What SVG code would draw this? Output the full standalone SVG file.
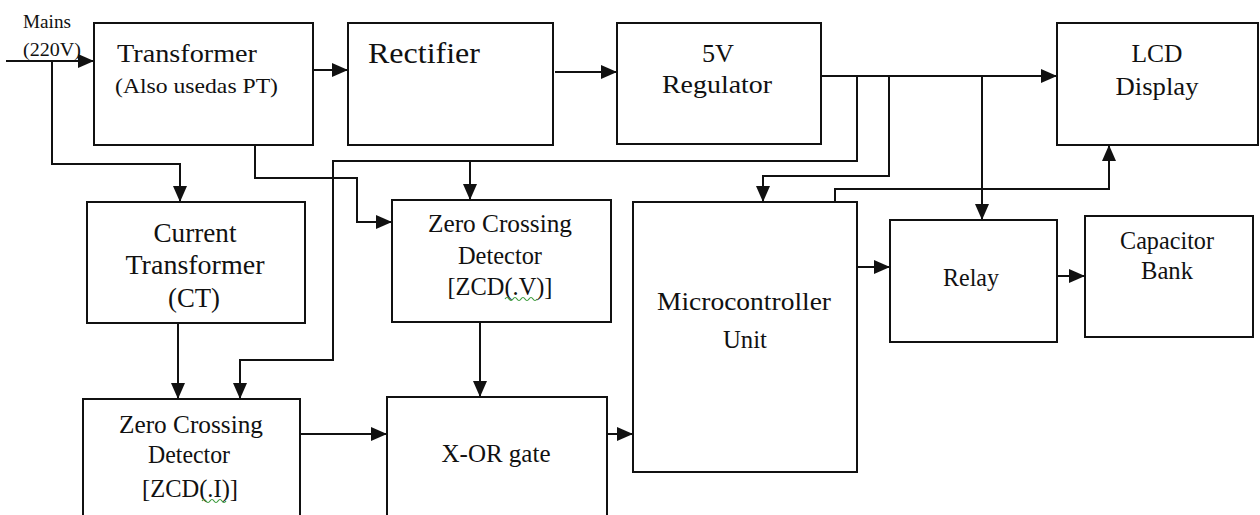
<svg xmlns="http://www.w3.org/2000/svg" width="1260" height="515" viewBox="0 0 1260 515">
<defs>
<marker id="ah" markerUnits="userSpaceOnUse" markerWidth="16" markerHeight="14" refX="16" refY="7" orient="auto">
<path d="M0,0 L16,7 L0,14 Z" fill="#111"/>
</marker>
<style>
.box{fill:#fff;stroke:#111;stroke-width:2}
.c{fill:none;stroke:#111;stroke-width:2}
.a{marker-end:url(#ah)}
.sq{fill:none;stroke:#3a9a3a;stroke-width:1.2}
.m{text-anchor:middle}
</style>
</defs>
<rect width="1260" height="515" fill="#fff"/>

<g id="connectors">
<path class="c a" d="M6,61 H94"/>
<path class="c a" d="M52,61 V164 H180 V202"/>
<path class="c a" d="M313,70 H348"/>
<path class="c a" d="M555,72 H617"/>
<path class="c a" d="M821,76 H1057"/>
<path class="c a" d="M255,145 V178 H357 V222 H392"/>
<path class="c a" d="M857,76 V161 H333 V360 H240 V399"/>
<path class="c a" d="M470,161 V200"/>
<path class="c a" d="M889,76 V176 H763 V202"/>
<path class="c a" d="M982,76 V220"/>
<path class="c a" d="M835,202 V189 H1109 V145"/>
<path class="c a" d="M178,323 V399"/>
<path class="c a" d="M480,322 V397"/>
<path class="c a" d="M300,434 H387"/>
<path class="c a" d="M607,434 H633"/>
<path class="c a" d="M857,267 H890"/>
<path class="c a" d="M1057,276 H1085"/>
</g>

<g font-family="'Liberation Serif', 'Times New Roman', 'DejaVu Serif', serif" font-size="26" fill="#111">

<g id="mains-label">
<text x="23" y="28" font-size="18" textLength="48" lengthAdjust="spacingAndGlyphs">Mains</text>
<text x="23" y="56" font-size="19" textLength="58" lengthAdjust="spacingAndGlyphs">(220V)</text>
</g>

<g id="transformer">
<rect class="box" x="94" y="23" width="219" height="122"/>
<text x="117" y="62" textLength="140" lengthAdjust="spacingAndGlyphs">Transformer</text>
<text x="115" y="93" font-size="21" textLength="163" lengthAdjust="spacingAndGlyphs">(Also usedas PT)</text>
</g>

<g id="rectifier">
<rect class="box" x="348" y="23" width="205" height="122"/>
<text x="368" y="63" font-size="30" textLength="112" lengthAdjust="spacingAndGlyphs">Rectifier</text>
</g>

<g id="regulator">
<rect class="box" x="617" y="23" width="204" height="121"/>
<text class="m" x="718" y="62" textLength="32" lengthAdjust="spacingAndGlyphs">5V</text>
<text class="m" x="717" y="93" textLength="110" lengthAdjust="spacingAndGlyphs">Regulator</text>
</g>

<g id="lcd">
<rect class="box" x="1057" y="23" width="201" height="122"/>
<text class="m" x="1157" y="62" textLength="51" lengthAdjust="spacingAndGlyphs">LCD</text>
<text class="m" x="1157" y="95" textLength="83" lengthAdjust="spacingAndGlyphs">Display</text>
</g>

<g id="ct">
<rect class="box" x="87" y="202" width="218" height="121"/>
<text class="m" x="195" y="242" font-size="27" textLength="83" lengthAdjust="spacingAndGlyphs">Current</text>
<text class="m" x="195" y="274" font-size="27" textLength="139" lengthAdjust="spacingAndGlyphs">Transformer</text>
<text class="m" x="194" y="307" font-size="27" textLength="52" lengthAdjust="spacingAndGlyphs">(CT)</text>
</g>

<g id="zcd-v">
<rect class="box" x="392" y="200" width="219" height="122"/>
<text class="m" x="500" y="232" textLength="144" lengthAdjust="spacingAndGlyphs">Zero Crossing</text>
<text class="m" x="500" y="264" textLength="84" lengthAdjust="spacingAndGlyphs">Detector</text>
<text class="m" x="500" y="295" textLength="105" lengthAdjust="spacingAndGlyphs">[ZCD(.V)]</text>
<path class="sq" d="M505,299 q2,-3 4,0 t4,0 t4,0 t4,0 t4,0 t4,0 t4,0 t4,0"/>
</g>

<g id="mcu">
<rect class="box" x="633" y="202" width="224" height="270"/>
<text class="m" x="744" y="310" textLength="174" lengthAdjust="spacingAndGlyphs">Microcontroller</text>
<text class="m" x="745" y="348" textLength="44" lengthAdjust="spacingAndGlyphs">Unit</text>
</g>

<g id="relay">
<rect class="box" x="890" y="220" width="167" height="122"/>
<text class="m" x="971" y="286" font-size="25" textLength="56" lengthAdjust="spacingAndGlyphs">Relay</text>
</g>

<g id="capacitor-bank">
<rect class="box" x="1085" y="216" width="168" height="121"/>
<text class="m" x="1167" y="249" font-size="25" textLength="94" lengthAdjust="spacingAndGlyphs">Capacitor</text>
<text class="m" x="1167" y="279" font-size="25" textLength="52" lengthAdjust="spacingAndGlyphs">Bank</text>
</g>

<g id="zcd-i">
<rect class="box" x="83" y="399" width="217" height="130"/>
<text class="m" x="191" y="433" textLength="144" lengthAdjust="spacingAndGlyphs">Zero Crossing</text>
<text class="m" x="189" y="463" textLength="82" lengthAdjust="spacingAndGlyphs">Detector</text>
<text class="m" x="190" y="497" textLength="96" lengthAdjust="spacingAndGlyphs">[ZCD(.I)]</text>
<path class="sq" d="M202,501 q2,-3 4,0 t4,0 t4,0 t4,0 t4,0 t4,0"/>
</g>

<g id="xor">
<rect class="box" x="387" y="397" width="220" height="130"/>
<text class="m" x="496" y="462" textLength="109" lengthAdjust="spacingAndGlyphs">X-OR gate</text>
</g>

</g>
</svg>
